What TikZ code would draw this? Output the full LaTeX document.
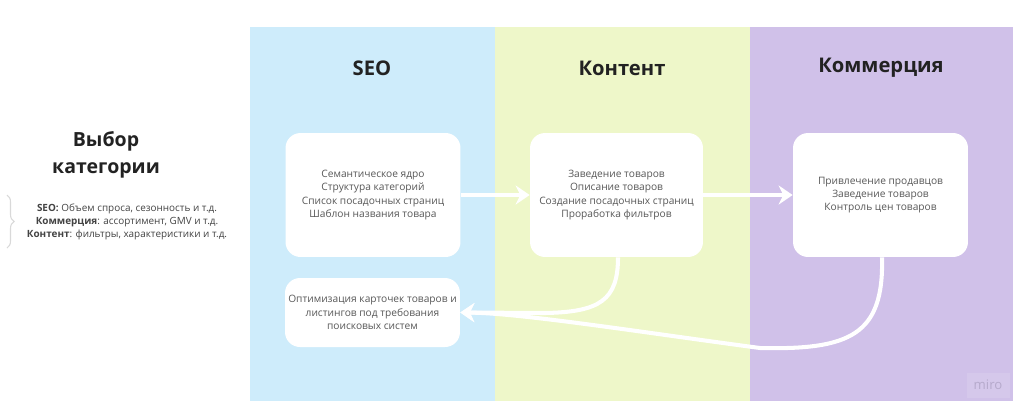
\documentclass[tikz,border=0pt]{standalone}
\usepackage{fontspec}
\setmainfont{Open Sans}
\usetikzlibrary{arrows.meta,positioning,calc,decorations.pathreplacing}
\definecolor{seoblue}{RGB}{206,236,251}
\definecolor{contgreen}{RGB}{238,247,201}
\definecolor{commpurple}{RGB}{208,193,233}
\definecolor{boxgray}{RGB}{88,88,88}
\definecolor{headdark}{RGB}{34,34,34}
\definecolor{markgray}{RGB}{182,170,204}

\begin{document}
\begin{tikzpicture}[x=0.02cm,y=-0.02cm,
 card/.style={fill=white,rounded corners=0.3cm,align=center,text=boxgray,font=\fontsize{5.8}{7.6}\selectfont,minimum width=3.5cm,minimum height=2.48cm,inner sep=0pt},
 head/.style={font=\fontsize{11.5}{14}\selectfont\bfseries,text=headdark},
 flow/.style={-{Stealth[length=2.8mm,width=3.8mm]},line width=2.3pt,draw=white}]
\fill[white] (0,0) rectangle (1024,417);
\fill[seoblue] (250,27) rectangle (495,401);
\fill[contgreen] (495,27) rectangle (750,401);
\fill[commpurple] (750,27) rectangle (1013,401);
\node[head] (hseo) at (372,68) {SEO};
\node[head] (hcont) at (622,68) {Контент};
\node[head] (hcomm) at (881,68) {Коммерция};
\node[align=center,text=headdark,font=\fontsize{11.1}{15.2}\selectfont\bfseries] (title) at (106,155) {Выбор\\категории};
\node[align=center,text=headdark!85,font=\fontsize{5.65}{7.5}\selectfont] (notes) at (127,222)
 {\textbf{SEO:} Объем спроса, сезонность и т.д.\\\textbf{Коммерция}: ассортимент, GMV и т.д.\\\textbf{Контент}: фильтры, характеристики и т.д.};
\draw[black!15,line width=0.6pt,decorate,decoration={brace,amplitude=4pt}] (7,195) -- (7,248);
\node[card] (seo) at (373,195) {Семантическое ядро\\Структура категорий\\Список посадочных страниц\\Шаблон названия товара};
\node[card,minimum width=3.46cm] (cont) at (616.5,195) {Заведение товаров\\Описание товаров\\Создание посадочных страниц\\Проработка фильтров};
\node[card] (comm) at (880.5,195) {Привлечение продавцов\\Заведение товаров\\Контроль цен товаров};
\node[card,minimum height=1.38cm] (optim) at (372.5,312.5) {Оптимизация карточек товаров и\\листингов под требования\\поисковых систем};
\foreach \a/\b in {seo/cont,cont/comm} \draw[flow] (\a) -- (\b);
\draw[flow] ([xshift=1.5*0.02cm]cont.south) .. controls (618,300) and (600,312) .. (545,313) -- (optim.east);
\draw[flow] ([xshift=1.5*0.02cm]comm.south) .. controls (884,335) and (850,350) .. (760,348) .. controls (640,332) and (520,313) .. (optim.east);
% watermark
\node[fill=white,fill opacity=0.12,text opacity=1,text=markgray,minimum width=0.86cm,minimum height=0.5cm,font=\fontsize{7.5}{9}\selectfont] (miro) at (988,385) {miro};
\end{tikzpicture}
\end{document}
